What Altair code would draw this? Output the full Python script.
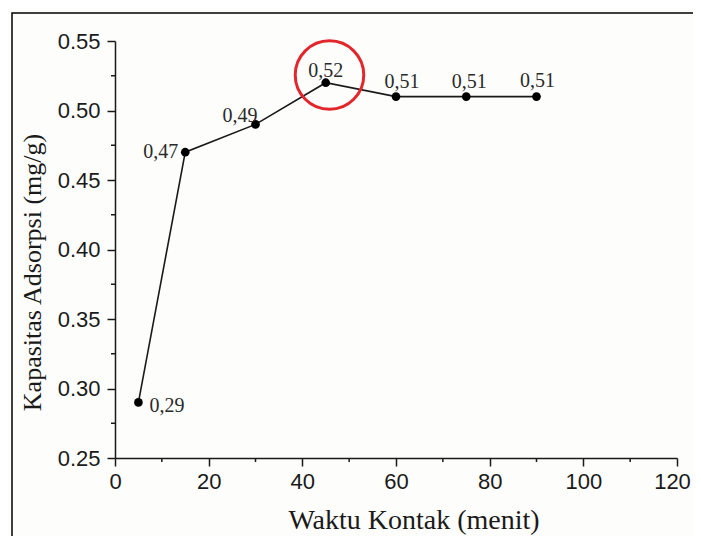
import altair as alt
import pandas as pd

# ---- data ----
time_min = [5, 15, 30, 45, 60, 75, 90]
capacity = [0.29, 0.47, 0.49, 0.52, 0.51, 0.51, 0.51]
point_labels = ["0,29", "0,47", "0,49", "0,52", "0,51", "0,51", "0,51"]
x_ticks = [0, 20, 40, 60, 80, 100, 120]
y_ticks = [0.25, 0.30, 0.35, 0.40, 0.45, 0.50, 0.55]
x_minor = [10, 30, 50, 70, 90, 110]
y_minor = [0.275, 0.325, 0.375, 0.425, 0.475, 0.525]
highlight_x = [45.8]
highlight_y = [0.5255]

W, H = 562, 417
INK = "#1a1a1a"
SERIF = "Liberation Serif"
SANS = "Liberation Sans"

df = pd.DataFrame({"t": time_min, "q": capacity, "lab": point_labels,
                   "i": list(range(len(time_min)))})

xs = alt.Scale(domain=[0, 120], nice=False, zero=False)
ys = alt.Scale(domain=[0.25, 0.55], nice=False, zero=False)

x_axis = alt.Axis(values=x_ticks, format="d", title="Waktu Kontak (menit)",
                  tickSize=8, tickWidth=1.5, domainWidth=1.5, labelFlush=False,
                  labelOffset={"condition": {"test": "datum.value == 120", "value": -5}, "value": 0},
                  domainColor=INK, tickColor=INK, labelColor=INK,
                  labelFont=SANS, labelFontSize=22, labelPadding=5,
                  titleFont=SERIF, titleFontSize=28, titleFontWeight="normal",
                  titleColor=INK, titleX=298.5, titleY=70,
                  titleAlign="center", titleBaseline="alphabetic",
                  grid=False)
y_axis = alt.Axis(values=y_ticks, format=".2f", title="Kapasitas Adsorpsi (mg/g)",
                  tickSize=8, tickWidth=1.5, domainWidth=1.5, labelFlush=False,
                  domainColor=INK, tickColor=INK, labelColor=INK,
                  labelFont=SANS, labelFontSize=22, labelPadding=7,
                  titleFont=SERIF, titleFontSize=26, titleFontWeight="normal",
                  titleColor=INK, titleX=-83, titleY=231, titleAngle=-90,
                  titleAlign="center", titleBaseline="middle",
                  grid=False)

X = alt.X("t:Q", scale=xs)
Y = alt.Y("q:Q", scale=ys)

line = alt.Chart(df).mark_line(color=INK, strokeWidth=1.6).encode(
    x=alt.X("t:Q", scale=xs, axis=x_axis),
    y=alt.Y("q:Q", scale=ys, axis=y_axis),
)
points = alt.Chart(df).mark_circle(color="#000", size=75, opacity=1).encode(x=X, y=Y)

# label placement per point (style only)
label_styles = [
    dict(align="left", dx=11, dy=10),
    dict(align="right", dx=-7, dy=6),
    dict(align="right", dx=2, dy=-2),
    dict(align="center", dx=0, dy=-6),
    dict(align="center", dx=6, dy=-9),
    dict(align="center", dx=3, dy=-9),
    dict(align="center", dx=1, dy=-10),
]
label_layers = []
for i, st in enumerate(label_styles):
    label_layers.append(
        alt.Chart(df).transform_filter(alt.datum.i == i).mark_text(
            font=SERIF, fontSize=20, color="#2a2a2a", baseline="alphabetic", **st
        ).encode(x=X, y=Y, text="lab:N")
    )

# minor ticks
ym = alt.Chart(pd.DataFrame({"q": y_minor})).mark_rule(color=INK, strokeWidth=1.5).encode(
    y=Y, x=alt.value(-4), x2=alt.value(0))
xm = alt.Chart(pd.DataFrame({"t": x_minor})).mark_rule(color=INK, strokeWidth=1.5).encode(
    x=X, y=alt.value(H), y2=alt.value(H + 4))

# red highlight circle
hl = alt.Chart(pd.DataFrame({"t": highlight_x, "q": highlight_y})).mark_point(
    shape="circle", size=4700, filled=False, color="#e2262b", strokeWidth=3, opacity=1
).encode(x=X, y=Y)

# outer frame (only its top and left edges fall inside the picture)
one = pd.DataFrame({"k": [0]})
frame = alt.Chart(one).mark_rect(fill=None, fillOpacity=0, stroke="#000", strokeWidth=1.5).encode(
    x=alt.value(-103), x2=alt.value(W + 60), y=alt.value(-28), y2=alt.value(H + 150))

chart = alt.layer(line, frame, xm, ym, points, hl, *label_layers).properties(
    width=W, height=H,
    padding={"left": 107, "top": 33, "right": 16, "bottom": 78},
    autosize=alt.AutoSizeParams(type="none"),
    background="#fdfdfb",
).configure_view(stroke=None)

chart.save("out.html", embed_options={"renderer": "svg", "actions": False})
